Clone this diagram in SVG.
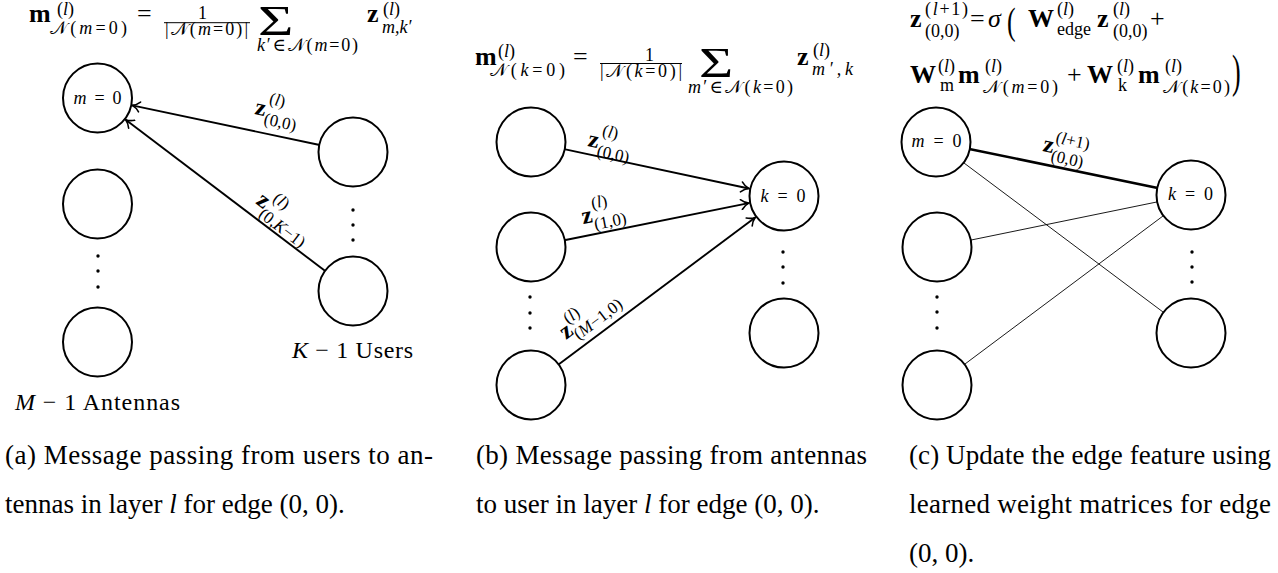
<svg xmlns="http://www.w3.org/2000/svg" width="1278" height="573" viewBox="0 0 1278 573">
<defs>
<style>
  text { font-family: "Liberation Serif", "DejaVu Serif", serif; fill: #000; }
  .node circle { fill: #fff; stroke: #000; stroke-width: 2; }
  .edge { stroke: #000; stroke-width: 1.9; fill: none; }
  .thin { stroke-width: 0.9; }
  .heavy { stroke-width: 2.6; }
  .dots circle { fill: #000; }
  .b { font-weight: bold; }
  .i { font-style: italic; }
  .m { font-size: 26px; }
  .s { font-size: 18px; }
  .el { font-size: 24px; }
  .es { font-size: 17px; }
  .lab { font-size: 18px; }
  .side { font-size: 24px; }
  .cap { font-size: 27px; }
  .op { font-family: "Liberation Serif", serif; font-size: 42px; }
</style>
<marker id="tip" viewBox="-9 -6 11 12" refX="0" refY="0" markerWidth="11" markerHeight="12" markerUnits="userSpaceOnUse" orient="auto">
  <path d="M -7.5 -5 C -5 -2.2 -2 -0.6 0 0 C -2 0.6 -5 2.2 -7.5 5" fill="none" stroke="#000" stroke-width="1.6" stroke-linecap="round"/>
</marker>
</defs>
<rect width="1278" height="573" fill="#fff"/>

<!-- ===== Panel (a): users to antennas ===== -->
<g id="formula-a">
  <text class="m b" x="29" y="22">m</text>
  <text class="s" x="57" y="15">(<tspan class="i">l</tspan>)</text>
  <text class="s" x="50" y="34" textLength="77" lengthAdjust="spacing">𝒩(<tspan class="i">m</tspan>=0)</text>
  <text class="m" x="137" y="22">=</text>
  <text class="s" x="198" y="19">1</text>
  <line x1="164" y1="22.7" x2="250" y2="22.7" stroke="#000" stroke-width="1"/>
  <text class="s" x="165" y="35" textLength="83" lengthAdjust="spacing">|𝒩(<tspan class="i">m</tspan>=0)|</text>
  <text class="op" transform="translate(258 35) scale(1.45 1)">Σ</text>
  <text class="s" x="257" y="51" textLength="101" lengthAdjust="spacing"><tspan class="i">k</tspan>′∈𝒩(<tspan class="i">m</tspan>=0)</text>
  <text class="m b" x="367" y="22">z</text>
  <text class="s" x="383" y="15">(<tspan class="i">l</tspan>)</text>
  <text class="s i" x="382" y="33">m,k′</text>
</g>

<g id="edges-a">
  <line class="edge" x1="319.7" y1="145" x2="132.2" y2="105.4" marker-end="url(#tip)"/>
  <line class="edge" x1="325.9" y1="271.5" x2="125.7" y2="119.7" marker-end="url(#tip)"/>
  <g transform="translate(254 114) rotate(12)">
    <text class="el b" x="0" y="0">z</text>
    <text class="es" x="12" y="-13">(<tspan class="i">l</tspan>)</text>
    <text class="es" x="11" y="8">(0,0)</text>
  </g>
  <g transform="translate(255 203) rotate(37)">
    <text class="el b" x="0" y="0">z</text>
    <text class="es" x="12" y="-12">(<tspan class="i">l</tspan>)</text>
    <text class="es" x="10" y="9">(0,<tspan class="i">K</tspan>−1)</text>
  </g>
</g>

<g id="a-antenna-0" class="node">
  <circle cx="97.5" cy="98" r="34.5"/>
  <text class="lab" x="97.5" y="103.5" text-anchor="middle" textLength="48" lengthAdjust="spacing"><tspan class="i">m</tspan> = 0</text>
</g>
<g id="a-antenna-1" class="node"><circle cx="97.5" cy="204" r="34.5"/></g>
<g id="a-antenna-last" class="node"><circle cx="97.5" cy="342" r="34.5"/></g>
<g id="a-user-0" class="node"><circle cx="353" cy="152" r="34.5"/></g>
<g id="a-user-last" class="node"><circle cx="353" cy="291" r="34.5"/></g>
<g class="dots">
  <circle cx="98" cy="256" r="1.7"/><circle cx="98" cy="271" r="1.7"/><circle cx="98" cy="287" r="1.7"/>
  <circle cx="353" cy="210" r="1.7"/><circle cx="353" cy="225" r="1.7"/><circle cx="353" cy="240" r="1.7"/>
</g>
<text class="side" x="292" y="358" textLength="121" lengthAdjust="spacing"><tspan class="i">K</tspan> − 1 Users</text>
<text class="side" x="15" y="410" textLength="165" lengthAdjust="spacing"><tspan class="i">M</tspan> − 1 Antennas</text>

<!-- ===== Panel (b): antennas to user ===== -->
<g id="formula-b">
  <text class="m b" x="475" y="65">m</text>
  <text class="s" x="498" y="57">(<tspan class="i">l</tspan>)</text>
  <text class="s" x="490" y="76" textLength="75" lengthAdjust="spacing">𝒩(<tspan class="i">k</tspan>=0)</text>
  <text class="m" x="573" y="65">=</text>
  <text class="s" x="645" y="61">1</text>
  <line x1="600" y1="63.5" x2="682" y2="63.5" stroke="#000" stroke-width="1"/>
  <text class="s" x="600" y="77" textLength="82" lengthAdjust="spacing">|𝒩(<tspan class="i">k</tspan>=0)|</text>
  <text class="op" transform="translate(699 77) scale(1.4 1)">Σ</text>
  <text class="s" x="688" y="93" textLength="105" lengthAdjust="spacing"><tspan class="i">m</tspan>′∈𝒩(<tspan class="i">k</tspan>=0)</text>
  <text class="m b" x="797" y="65">z</text>
  <text class="s" x="813" y="56">(<tspan class="i">l</tspan>)</text>
  <text class="s i" x="812" y="75" textLength="41" lengthAdjust="spacing">m′,k</text>
</g>

<g id="edges-b">
  <line class="edge" x1="564.2" y1="149.1" x2="748.8" y2="188.5" marker-end="url(#tip)"/>
  <line class="edge" x1="564.3" y1="240.3" x2="748.7" y2="203.1" marker-end="url(#tip)"/>
  <line class="edge" x1="558.2" y1="364.7" x2="755.2" y2="217.5" marker-end="url(#tip)"/>
  <g transform="translate(587 146) rotate(12)">
    <text class="el b" x="0" y="0">z</text>
    <text class="es" x="12" y="-13">(<tspan class="i">l</tspan>)</text>
    <text class="es" x="11" y="8">(0,0)</text>
  </g>
  <g transform="translate(583 224) rotate(-11)">
    <text class="el b" x="0" y="0">z</text>
    <text class="es" x="12" y="-13">(<tspan class="i">l</tspan>)</text>
    <text class="es" x="11" y="8">(1,0)</text>
  </g>
  <g transform="translate(566 340) rotate(-37)">
    <text class="el b" x="0" y="0">z</text>
    <text class="es" x="11" y="-11">(<tspan class="i">l</tspan>)</text>
    <text class="es" x="10" y="8">(<tspan class="i">M</tspan>−1,0)</text>
  </g>
</g>

<g id="b-antenna-0" class="node"><circle cx="531" cy="142" r="34.5"/></g>
<g id="b-antenna-1" class="node"><circle cx="531" cy="247" r="34.5"/></g>
<g id="b-antenna-last" class="node"><circle cx="531" cy="385" r="34.5"/></g>
<g id="b-user-0" class="node">
  <circle cx="784" cy="196" r="34.5"/>
  <text class="lab" x="783" y="202" text-anchor="middle" textLength="45" lengthAdjust="spacing"><tspan class="i">k</tspan> = 0</text>
</g>
<g id="b-user-last" class="node"><circle cx="784" cy="333" r="34.5"/></g>
<g class="dots">
  <circle cx="530" cy="297" r="1.7"/><circle cx="530" cy="313" r="1.7"/><circle cx="530" cy="328" r="1.7"/>
  <circle cx="783" cy="252" r="1.7"/><circle cx="783" cy="267" r="1.7"/><circle cx="783" cy="283" r="1.7"/>
</g>

<!-- ===== Panel (c): edge update ===== -->
<g id="formula-c">
  <text class="m b" x="910" y="27">z</text>
  <text class="s" x="925" y="15" textLength="43" lengthAdjust="spacing">(<tspan class="i">l</tspan>+1)</text>
  <text class="s" x="925" y="37">(0,0)</text>
  <text class="m" x="970" y="27">=</text>
  <text class="m i" x="988" y="27">σ</text>
  <text class="m" transform="translate(1007 34) scale(1 1.45)">(</text>
  <text class="m b" x="1028" y="27">W</text>
  <text class="s" x="1057" y="15">(<tspan class="i">l</tspan>)</text>
  <text class="s" x="1057" y="35">edge</text>
  <text class="m b" x="1097" y="27">z</text>
  <text class="s" x="1113" y="15">(<tspan class="i">l</tspan>)</text>
  <text class="s" x="1113" y="37">(0,0)</text>
  <text class="m" x="1150" y="27">+</text>

  <text class="m b" x="910" y="83">W</text>
  <text class="s" x="938" y="72">(<tspan class="i">l</tspan>)</text>
  <text class="s" x="940" y="91">m</text>
  <text class="m b" x="958" y="83">m</text>
  <text class="s" x="985" y="72">(<tspan class="i">l</tspan>)</text>
  <text class="s" x="983" y="93" textLength="75" lengthAdjust="spacing">𝒩(<tspan class="i">m</tspan>=0)</text>
  <text class="m" x="1067" y="83">+</text>
  <text class="m b" x="1087" y="83">W</text>
  <text class="s" x="1117" y="72">(<tspan class="i">l</tspan>)</text>
  <text class="s" x="1118" y="91">k</text>
  <text class="m b" x="1138" y="83">m</text>
  <text class="s" x="1165" y="72">(<tspan class="i">l</tspan>)</text>
  <text class="s" x="1163" y="93" textLength="67" lengthAdjust="spacing">𝒩(<tspan class="i">k</tspan>=0)</text>
  <text class="m" transform="translate(1232 87) scale(1 1.75)">)</text>
</g>

<g id="edges-c">
  <line class="edge heavy" x1="969.3" y1="148.9" x2="1157.7" y2="188.1"/>
  <line class="edge thin" x1="963.2" y1="162.4" x2="1163.8" y2="312.6"/>
  <line class="edge thin" x1="970.3" y1="240.2" x2="1157.7" y2="201.8"/>
  <line class="edge thin" x1="964.2" y1="364.6" x2="1163.8" y2="215.4"/>
  <g transform="translate(1042 151) rotate(12)">
    <text class="el b" x="0" y="0">z</text>
    <text class="es" x="11" y="-11">(<tspan class="i">l</tspan>+1)</text>
    <text class="es" x="10" y="8">(0,0)</text>
  </g>
</g>

<g id="c-antenna-0" class="node">
  <circle cx="936" cy="142" r="34.5"/>
  <text class="lab" x="936.5" y="147" text-anchor="middle" textLength="50" lengthAdjust="spacing"><tspan class="i">m</tspan> = 0</text>
</g>
<g id="c-antenna-1" class="node"><circle cx="937" cy="247" r="34.5"/></g>
<g id="c-antenna-last" class="node"><circle cx="937" cy="385" r="34.5"/></g>
<g id="c-user-0" class="node">
  <circle cx="1191" cy="195" r="34.5"/>
  <text class="lab" x="1190.5" y="200" text-anchor="middle" textLength="45" lengthAdjust="spacing"><tspan class="i">k</tspan> = 0</text>
</g>
<g id="c-user-last" class="node"><circle cx="1191" cy="333" r="34.5"/></g>
<g class="dots">
  <circle cx="937" cy="297" r="1.7"/><circle cx="937" cy="312" r="1.7"/><circle cx="937" cy="328" r="1.7"/>
  <circle cx="1192" cy="252" r="1.7"/><circle cx="1192" cy="267" r="1.7"/><circle cx="1192" cy="282" r="1.7"/>
</g>

<!-- ===== Captions ===== -->
<g id="captions">
  <text class="cap" x="5" y="464" textLength="428" lengthAdjust="spacing">(a) Message passing from users to an-</text>
  <text class="cap" x="5" y="513">tennas in layer <tspan class="i">l</tspan> for edge (0, 0).</text>
  <text class="cap" x="476" y="464" textLength="391" lengthAdjust="spacing">(b) Message passing from antennas</text>
  <text class="cap" x="476" y="513">to user in layer <tspan class="i">l</tspan> for edge (0, 0).</text>
  <text class="cap" x="909" y="464" textLength="362" lengthAdjust="spacing">(c) Update the edge feature using</text>
  <text class="cap" x="909" y="513" textLength="362" lengthAdjust="spacing">learned weight matrices for edge</text>
  <text class="cap" x="909" y="562">(0, 0).</text>
</g>
</svg>
